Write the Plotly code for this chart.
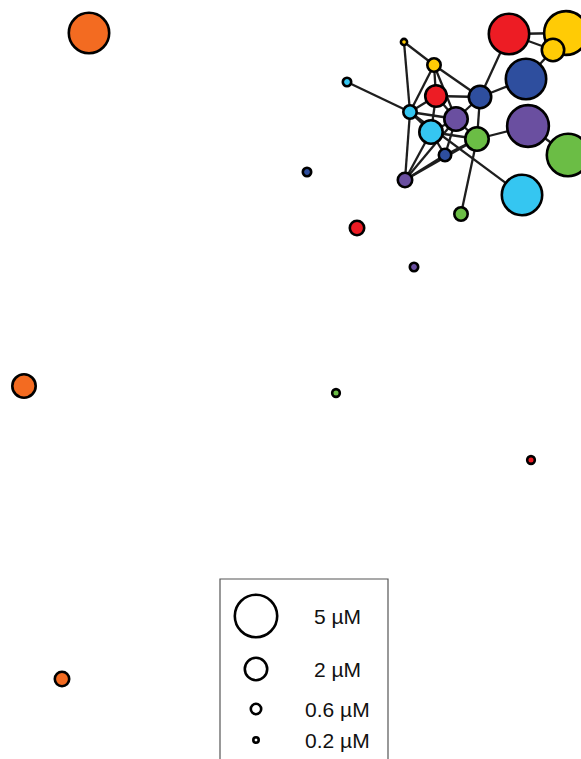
import numpy as np
import plotly.graph_objects as go

# Node layout (x, y in layout units), colour family and concentration (µM)
NODE_ID = [
    "orange_big", "red_big", "yellow_big", "yellow_med", "blue_big", "blue_med",
    "red_med", "yellow_small", "yellow_tiny", "cyan_small", "purple_med", "cyan_med",
    "green_med", "blue_small", "purple_small", "green_small", "purple_big", "green_big",
    "cyan_big", "cyan_tiny", "blue_tiny", "red_small", "purple_tiny", "orange_med",
    "green_tiny", "red_tiny", "orange_small",
]
NODE_X = [89, 509, 566, 553, 526, 480, 436, 434, 404, 410, 456, 431, 477, 445, 405,
          461, 528, 568, 522, 347, 307, 357, 414, 24, 336, 531, 62]
NODE_Y = [33, 34, 33, 50, 79, 97, 96, 65, 42, 112, 119, 132, 139, 155, 180,
          214, 126, 155, 195, 82, 172, 228, 267, 386, 393, 460, 679]
NODE_GROUP = ["orange", "red", "yellow", "yellow", "blue", "blue", "red", "yellow",
              "yellow", "cyan", "purple", "cyan", "green", "blue", "purple", "green",
              "purple", "green", "cyan", "cyan", "blue", "red", "purple", "orange",
              "green", "red", "orange"]
NODE_UM = [4.7, 4.7, 5.2, 2.0, 4.7, 2.0, 1.9, 0.95, 0.26, 0.95, 2.15, 2.15, 2.15, 0.83,
           1.07, 0.95, 4.9, 5.0, 4.7, 0.44, 0.44, 1.07, 0.44, 2.15, 0.38, 0.38, 1.07]

# Interaction edges
EDGES = [
    ("red_big", "blue_med"), ("red_big", "yellow_big"), ("red_big", "yellow_med"),
    ("blue_big", "yellow_med"), ("blue_big", "blue_med"),
    ("purple_big", "green_med"), ("purple_big", "green_big"),
    ("cyan_big", "cyan_small"), ("cyan_tiny", "cyan_small"),
    ("yellow_tiny", "yellow_small"), ("yellow_tiny", "cyan_small"),
    ("yellow_small", "blue_med"), ("yellow_small", "red_med"),
    ("yellow_small", "cyan_small"), ("yellow_small", "purple_med"),
    ("red_med", "blue_med"), ("red_med", "cyan_small"), ("red_med", "cyan_med"),
    ("red_med", "purple_med"), ("blue_med", "green_med"), ("blue_med", "purple_med"),
    ("green_med", "green_small"), ("green_med", "purple_med"), ("green_med", "cyan_med"),
    ("green_med", "blue_small"), ("cyan_small", "cyan_med"), ("cyan_small", "purple_med"),
    ("cyan_med", "purple_med"), ("cyan_med", "blue_small"), ("purple_med", "blue_small"),
    ("purple_small", "cyan_small"), ("purple_small", "cyan_med"),
    ("purple_small", "purple_med"), ("purple_small", "blue_small"),
    ("purple_small", "green_med"),
]

# Size key
LEGEND_UM = [5, 2, 0.6, 0.2]
LEGEND_TEXT = ["5 µM", "2 µM", "0.6 µM", "0.2 µM"]
LEGEND_Y = [616, 669, 709, 740]

COLORS = {
    "orange": "#F36B21", "red": "#ED1C24", "yellow": "#FFCB05", "blue": "#2E4E9E",
    "purple": "#6A4FA0", "green": "#6BBD45", "cyan": "#35C6F1",
}

W, H = 581, 759
LINE_W = 2.6


def diameter(um):
    """Outer marker diameter (px) for a concentration, minus the outline width."""
    um = np.asarray(um, dtype=float)
    d = np.interp(um, [0.2, 0.6, 2, 5], [8, 13, 25, 45])
    d = np.where(um > 5, 45 + (um - 5) * 20 / 3, d)
    return d - LINE_W


idx = {n: i for i, n in enumerate(NODE_ID)}
ex, ey = [], []
for a, b in EDGES:
    ex += [NODE_X[idx[a]], NODE_X[idx[b]], None]
    ey += [NODE_Y[idx[a]], NODE_Y[idx[b]], None]

fig = go.Figure()
fig.add_trace(go.Scatter(x=ex, y=ey, mode="lines",
                         line=dict(color="#1e1e1e", width=2.3), hoverinfo="skip"))

# draw larger nodes first so small ones sit on top
order = np.argsort(-np.array(NODE_UM))
fig.add_trace(go.Scatter(
    x=[NODE_X[i] for i in order], y=[NODE_Y[i] for i in order], mode="markers",
    marker=dict(size=diameter([NODE_UM[i] for i in order]),
                color=[COLORS[NODE_GROUP[i]] for i in order],
                line=dict(color="#000000", width=LINE_W), opacity=1),
    text=[NODE_ID[i] for i in order], hoverinfo="text",
))

# size key box
fig.add_shape(type="rect", x0=220, x1=388, y0=579, y1=800,
              line=dict(color="#555555", width=1.2), fillcolor="rgba(0,0,0,0)")
fig.add_trace(go.Scatter(
    x=[256] * len(LEGEND_UM), y=LEGEND_Y, mode="markers",
    marker=dict(size=diameter(LEGEND_UM), color="white", opacity=1,
                line=dict(color="#000000", width=LINE_W)),
    hoverinfo="skip",
))
for t, y in zip(LEGEND_TEXT, LEGEND_Y):
    fig.add_annotation(x=337, y=y, text=t, showarrow=False, xanchor="center",
                       yanchor="middle",
                       font=dict(family="Liberation Sans, Arial", size=21, color="#111111"))

fig.update_layout(
    width=W, height=H, margin=dict(l=0, r=0, t=0, b=0),
    paper_bgcolor="white", plot_bgcolor="white", showlegend=False,
    xaxis=dict(range=[0, W], visible=False, fixedrange=True),
    yaxis=dict(range=[H, 0], visible=False, fixedrange=True),
)
fig.write_html("out.html")
